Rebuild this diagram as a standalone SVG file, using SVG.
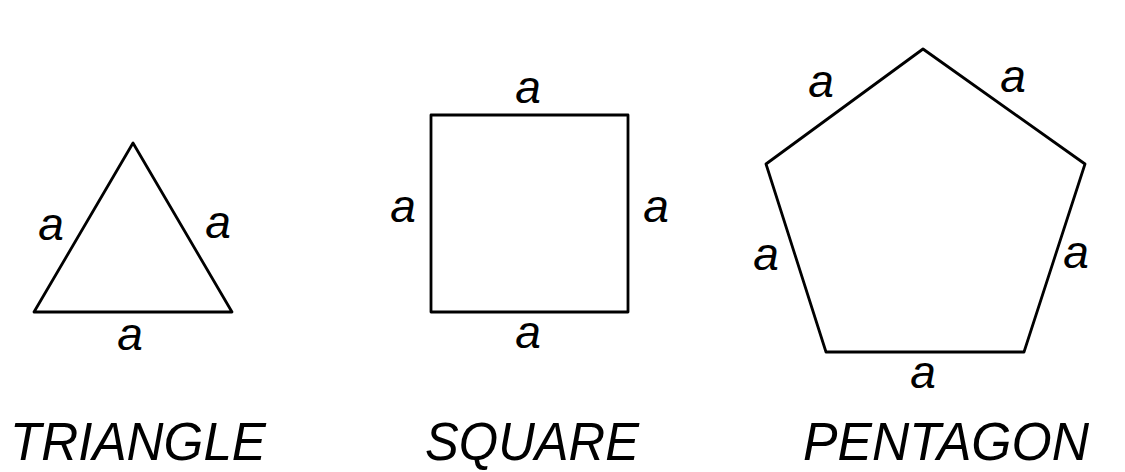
<svg xmlns="http://www.w3.org/2000/svg" width="1125" height="472" viewBox="0 0 1125 472">
<style>
.shape{fill:none;stroke:#000;stroke-width:2.8;stroke-linejoin:round}
.lbl{font-family:"Liberation Sans",Arial,sans-serif;font-style:italic;font-size:46px;fill:#000;text-anchor:middle}
.title{font-family:"Liberation Sans",Arial,sans-serif;font-style:italic;font-size:53px;fill:#000}
</style>
<rect width="1125" height="472" fill="#fff"/>
<g id="triangle">
<polygon class="shape" points="133,143 34,312 232,312"/>
<text class="lbl" x="51" y="240">a</text>
<text class="lbl" x="218" y="238">a</text>
<text class="lbl" x="130" y="350">a</text>
<text class="title" x="10" y="460" textLength="256" lengthAdjust="spacingAndGlyphs">TRIANGLE</text>
</g>
<g id="square">
<rect class="shape" x="431" y="115" width="197" height="197"/>
<text class="lbl" x="528" y="103">a</text>
<text class="lbl" x="403" y="222">a</text>
<text class="lbl" x="656" y="222">a</text>
<text class="lbl" x="528" y="348">a</text>
<text class="title" x="425" y="460" textLength="214" lengthAdjust="spacingAndGlyphs">SQUARE</text>
</g>
<g id="pentagon">
<polygon class="shape" points="923,49 1085,164 1024,352 826,352 766,164"/>
<text class="lbl" x="821" y="97">a</text>
<text class="lbl" x="1013" y="92">a</text>
<text class="lbl" x="766" y="270">a</text>
<text class="lbl" x="1076" y="268">a</text>
<text class="lbl" x="923" y="388">a</text>
<text class="title" x="803" y="460" textLength="286" lengthAdjust="spacingAndGlyphs">PENTAGON</text>
</g>
<g id="connectors"></g>
</svg>
